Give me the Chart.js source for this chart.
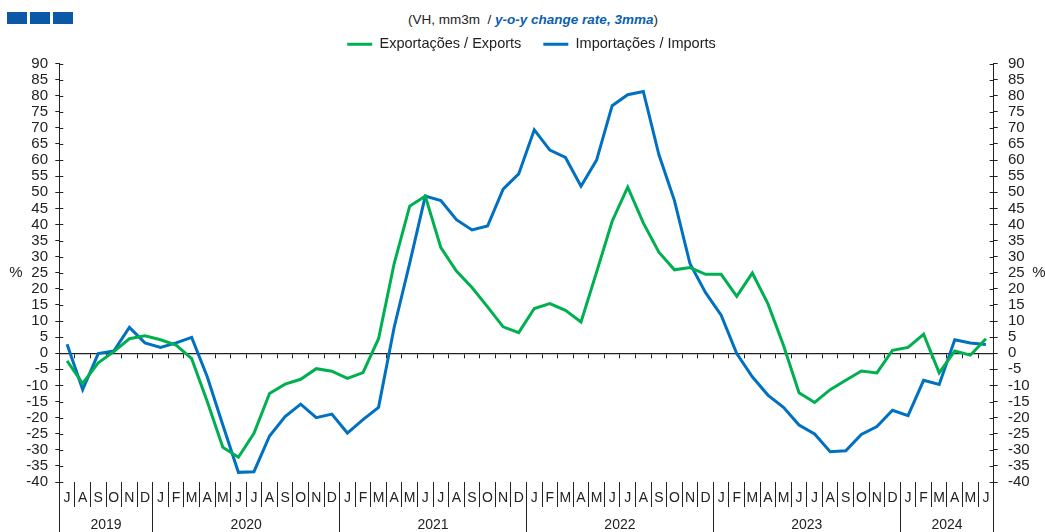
<!DOCTYPE html>
<html>
<head>
<meta charset="utf-8">
<script src="https://cdn.jsdelivr.net/npm/chart.js@4.4.1/dist/chart.umd.min.js"></script>
<style>
  body { margin: 0; background: #fff; }
  #wrap { position: relative; width: 1045px; height: 532px; overflow: hidden; font-family: "Liberation Sans", Arial, sans-serif; }
  #chart { position: absolute; left: 0; top: 0; }
  .logo { position: absolute; top: 12px; width: 20px; height: 12px; background: #0b58a6; }
  #subtitle { position: absolute; left: 533px; top: 11px; transform: translateX(-50%); white-space: nowrap; font-size: 13.5px; line-height: 18px; color: #222; }
  #subtitle em { color: #0b5fae; font-weight: bold; }
</style>
</head>
<body>
<div id="wrap">
  <div class="logo" style="left:7px"></div>
  <div class="logo" style="left:30px"></div>
  <div class="logo" style="left:53px"></div>
  <div id="subtitle">(VH, mm3m &nbsp;/ <em>y-o-y change rate, 3mma</em>)</div>
  <canvas id="chart" width="1045" height="532"></canvas>
</div>
<script>
// months from July 2019 to June 2024
const months = [
  'J','A','S','O','N','D',
  'J','F','M','A','M','J','J','A','S','O','N','D',
  'J','F','M','A','M','J','J','A','S','O','N','D',
  'J','F','M','A','M','J','J','A','S','O','N','D',
  'J','F','M','A','M','J','J','A','S','O','N','D',
  'J','F','M','A','M','J'
];
const years = ['2019', '2020', '2021', '2022', '2023', '2024'];
const monthsPerYear = [6, 12, 12, 12, 12, 6];

const exportsData = [
  -2.4, -9.4, -3.0, 0.5, 4.5, 5.4,
  4.2, 2.5, -1.7, -15.0, -29.2, -32.3, -24.9, -12.5, -9.6, -8.1, -4.8, -5.6,
  -7.8, -6.0, 4.5, 27.8, 45.7, 48.8, 32.8, 25.5, 20.4, 14.4, 8.2, 6.4,
  13.9, 15.4, 13.3, 9.7, 25.2, 41.0, 51.6, 40.5, 31.4, 25.9, 26.6, 24.5,
  24.5, 17.7, 24.9, 15.4, 2.5, -12.3, -15.3, -11.3, -8.4, -5.5, -6.1, 0.9,
  1.8, 5.9, -6.1, 0.7, -0.6, 4.5
];
const importsData = [
  2.8, -11.3, -0.1, 0.7, 8.0, 3.2,
  1.8, 3.2, 4.9, -7.3, -22.3, -37.0, -36.8, -25.7, -19.7, -15.8, -20.0, -18.9,
  -24.8, -20.6, -16.8, 8.0, 28.0, 48.8, 47.4, 41.5, 38.3, 39.5, 51.0, 55.7,
  69.4, 63.1, 60.8, 51.9, 60.0, 76.9, 80.3, 81.3, 61.7, 47.4, 27.8, 18.8,
  11.8, -0.1, -7.3, -13.0, -16.8, -22.3, -25.1, -30.6, -30.3, -25.2, -22.8, -17.7,
  -19.4, -8.4, -9.7, 4.2, 3.2, 2.7
];

const axisColor = '#222';
const textColor = '#222';
const fontFamily = '"Liberation Sans", Arial, sans-serif';

// year blocks on the category index scale
const yearBounds = [-0.5];
const yearCenters = [];
monthsPerYear.forEach((n) => {
  const start = yearBounds[yearBounds.length - 1];
  yearCenters.push(start + n / 2);
  yearBounds.push(start + n);
});

const sideDecor = {
  id: 'sideDecor',
  beforeInit(chart) {
    if (chart.legend) {
      const fit = chart.legend.fit;
      chart.legend.fit = function () { fit.call(this); this.height += 2; };
    }
  },
  beforeDraw(chart) {
    // nudge the legend a little to the right, like the original
    if (chart.legend && !chart.legend._nudged) {
      chart.legend.left += 5;
      chart.legend.right += 5;
      chart.legend._nudged = true;
    }
  },
  beforeDatasetsDraw(chart) {
    const { ctx, chartArea } = chart;
    ctx.save();
    ctx.strokeStyle = axisColor;
    ctx.lineWidth = 1;
    ['y', 'y2'].forEach((id) => {
      const s = chart.scales[id];
      s.ticks.forEach((t) => {
        const py = Math.round(s.getPixelForValue(t.value)) + 0.5;
        ctx.beginPath();
        if (id === 'y') { ctx.moveTo(chartArea.left, py); ctx.lineTo(chartArea.left + 4, py); }
        else { ctx.moveTo(chartArea.right - 4, py); ctx.lineTo(chartArea.right, py); }
        ctx.stroke();
      });
    });
    ctx.fillStyle = textColor;
    ctx.font = '15px ' + fontFamily;
    ctx.textAlign = 'center';
    ctx.textBaseline = 'middle';
    const midY = (chartArea.top + chartArea.bottom) / 2;
    ctx.fillText('%', 16, midY);
    ctx.fillText('%', chart.width - 6, midY);
    ctx.restore();
  }
};

const yAxis = (position, padding) => ({
  position: position,
  min: -40,
  max: 90,
  afterFit: (s) => { s.width = 40; },
  grid: { drawOnChartArea: false, tickLength: 4, color: axisColor },
  border: { color: axisColor, width: 1 },
  ticks: { stepSize: 5, autoSkip: false, padding: padding, color: textColor, font: { family: fontFamily, size: 15, lineHeight: 1 } }
});

new Chart(document.getElementById('chart'), {
  type: 'line',
  data: {
    labels: months,
    datasets: [
      { label: 'Exportações / Exports', data: exportsData, borderColor: '#00b050', backgroundColor: '#00b050', borderWidth: 3, pointRadius: 0, tension: 0, yAxisID: 'y', xAxisID: 'x' },
      { label: 'Importações / Imports', data: importsData, borderColor: '#0070c0', backgroundColor: '#0070c0', borderWidth: 3, pointRadius: 0, tension: 0, yAxisID: 'y', xAxisID: 'x' }
    ]
  },
  options: {
    responsive: false,
    animation: false,
    layout: { padding: { left: 19.3, right: 11.3, top: 15, bottom: 0 } },
    plugins: {
      legend: {
        position: 'top',
        labels: {
          usePointStyle: true,
          pointStyle: 'line',
          pointStyleWidth: 25,
          padding: 22,
          color: textColor,
          font: { family: fontFamily, size: 14.5 }
        }
      },
      tooltip: { enabled: false }
    },
    scales: {
      x: {
        type: 'category',
        position: 'bottom',
        weight: 0,
        offset: true,
        afterFit: (s) => { s.height = 24; },
        grid: { offset: true, drawOnChartArea: false, tickLength: 25, color: axisColor },
        border: { display: false },
        ticks: { autoSkip: false, maxRotation: 0, minRotation: 0, padding: -17.4, color: textColor, font: { family: fontFamily, size: 14 } }
      },
      x2: {
        type: 'linear',
        position: 'bottom',
        weight: 1,
        min: -0.5,
        max: 59.5,
        afterFit: (s) => { s.height = 26; },
        afterBuildTicks: (s) => {
          s.ticks = yearBounds.concat(yearCenters).sort((a, b) => a - b).map((v) => ({ value: v }));
        },
        grid: {
          drawOnChartArea: false,
          tickLength: 26,
          color: (c) => (c.tick && yearBounds.includes(c.tick.value) ? axisColor : 'rgba(0,0,0,0)')
        },
        border: { display: false },
        ticks: {
          autoSkip: false, maxRotation: 0, minRotation: 0, padding: -15.4, color: textColor,
          font: { family: fontFamily, size: 14 },
          callback: (v) => { const k = yearCenters.indexOf(v); return k >= 0 ? years[k] : ''; }
        }
      },
      x3: {
        type: 'category',
        position: { y: 0 },
        offset: true,
        grid: { offset: true, drawOnChartArea: false, tickLength: 4, color: axisColor },
        border: { color: axisColor, width: 1.3 },
        ticks: { display: false }
      },
      y: yAxis('left', 7.3),
      y2: yAxis('right', 10.3)
    }
  },
  plugins: [sideDecor]
});
</script>
</body>
</html>
